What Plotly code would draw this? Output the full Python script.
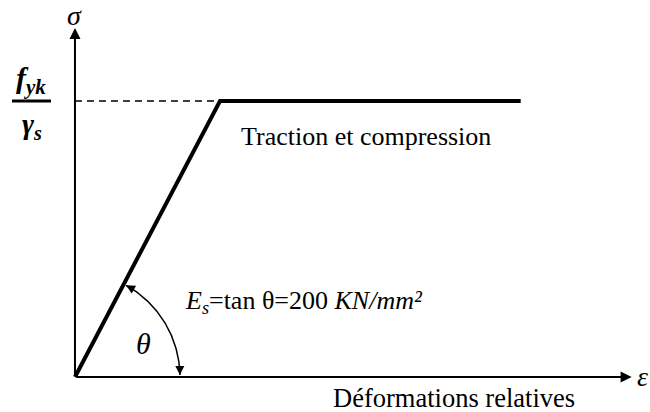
import numpy as np
import plotly.graph_objects as go

# Idealised design law for reinforcing steel (strain in per mille, stress in MPa)
strain = [0.0, 2.17, 6.67]
stress = [0.0, 434.8, 434.8]

# Extent of the two drawn axes (arrow tips)
eps_axis_end = 8.33
sig_axis_end = 549.8

W, H = 650, 412
x_range = [-1.122, 8.605]
y_range = [-55.1, 593.9]
kx = W / (x_range[1] - x_range[0])   # pixels per per-mille
ky = H / (y_range[1] - y_range[0])   # pixels per MPa

FONT = "Liberation Serif, serif"

fig = go.Figure()

# Dashed guide at the design yield stress
fig.add_trace(go.Scatter(
    x=[0, strain[1]], y=[stress[1], stress[1]], mode="lines",
    line=dict(color="black", width=1.5, dash="7px,5px"), hoverinfo="skip"))

# Elastic branch + plastic plateau
fig.add_trace(go.Scatter(
    x=strain, y=stress, mode="lines",
    line=dict(color="black", width=4), hoverinfo="skip"))

# Angle arc between the elastic branch and the strain axis (radius in pixels)
r_px = 105
theta_line = np.arctan2(stress[1] * ky, strain[1] * kx)
t0 = np.arcsin(2.0 / r_px)
t1 = theta_line - 2.5 / r_px
t = np.linspace(t0, t1, 80)
fig.add_trace(go.Scatter(
    x=r_px * np.cos(t) / kx, y=r_px * np.sin(t) / ky, mode="lines",
    line=dict(color="black", width=1.5), hoverinfo="skip"))

annotations = []

# Arrowheads at both ends of the arc
L = 9
annotations.append(dict(
    x=r_px * np.cos(t0) / kx, y=r_px * np.sin(t0) / ky, xref="x", yref="y",
    ax=-L * np.sin(t0), ay=-L * np.cos(t0), showarrow=True, text="",
    arrowhead=2, arrowsize=1.2, arrowwidth=1.5, arrowcolor="black", standoff=0))
annotations.append(dict(
    x=r_px * np.cos(t1) / kx, y=r_px * np.sin(t1) / ky, xref="x", yref="y",
    ax=L * np.sin(t1), ay=L * np.cos(t1), showarrow=True, text="",
    arrowhead=2, arrowsize=1.2, arrowwidth=1.5, arrowcolor="black", standoff=0))

# Axes drawn as arrows from the origin
annotations.append(dict(
    x=0, y=sig_axis_end, xref="x", yref="y", ax=0, ay=0, axref="x", ayref="y",
    showarrow=True, text="", arrowhead=2, arrowsize=1.1, arrowwidth=2,
    arrowcolor="black", standoff=0))
annotations.append(dict(
    x=eps_axis_end, y=0, xref="x", yref="y", ax=0, ay=0, axref="x", ayref="y",
    showarrow=True, text="", arrowhead=2, arrowsize=1.1, arrowwidth=2,
    arrowcolor="black", standoff=0))


def label(text, px, py, size=26, xanchor="center"):
    annotations.append(dict(
        text=text, x=px / W, y=1 - py / H, xref="paper", yref="paper",
        showarrow=False, xanchor=xanchor, yanchor="middle",
        font=dict(family=FONT, size=size, color="black")))


label("<i>σ</i>", 74, 16, size=28)
label("<i>ε</i>", 642, 376, size=28)
label("Traction et compression", 366, 136)
label("Déformations relatives", 454, 398, size=26.5)
label("<i>θ</i>", 143, 343, size=30)
label("<i>E</i><sub><i>s</i></sub>=tan θ=200 <i>KN/mm²</i>", 183, 302, xanchor="left")
label("<b><i>f<sub>yk</sub></i></b>", 31, 80, size=30)
label("<b><i>γ<sub>s</sub></i></b>", 32, 126, size=29)

fig.update_layout(
    width=W, height=H, autosize=False,
    margin=dict(l=0, r=0, t=0, b=0),
    paper_bgcolor="white", plot_bgcolor="white",
    showlegend=False,
    xaxis=dict(range=x_range, visible=False, fixedrange=True),
    yaxis=dict(range=y_range, visible=False, fixedrange=True),
    annotations=annotations,
    shapes=[dict(type="line", xref="paper", yref="paper",
                 x0=12 / W, x1=51 / W, y0=1 - 101 / H, y1=1 - 101 / H,
                 line=dict(color="black", width=3))],
)

fig.write_html("out.html")
